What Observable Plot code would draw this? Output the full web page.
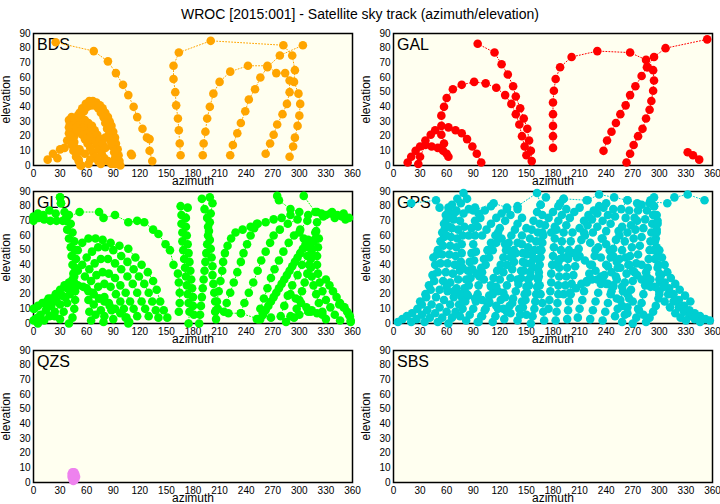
<!DOCTYPE html>
<html><head><meta charset="utf-8">
<script src="https://cdn.jsdelivr.net/npm/d3@7"></script>
<script src="https://cdn.jsdelivr.net/npm/@observablehq/plot@0.6"></script>
<style>
body{margin:0;background:#fff;font-family:"Liberation Sans",Arial,Helvetica,sans-serif;}
#wrap{position:relative;width:720px;height:504px;overflow:hidden;background:#fff;}
#title{position:absolute;left:0;top:6px;width:720px;text-align:center;font-size:14px;line-height:17px;color:#000;}
.panel{position:absolute;}
.panel svg{overflow:visible;}
</style></head><body>
<div id="wrap"><div id="title">WROC [2015:001] - Satellite sky track (azimuth/elevation)</div></div>
<script>
const azTicks = [0,30,60,90,120,150,180,210,240,270,300,330,360];
const elTicks = [0,10,20,30,40,50,60,70,80,90];
const systemNames = ["BDS","GAL","GLO","GPS","QZS","SBS"];
const systemColors = ["#ffa500","#ff0000","#00ff00","#00ced1","#ee82ee","#0000ff"];

const bdsTracks = [
 [[25,84],[68,78],[84,71],[93,63],[101,55],[107,48],[113,40],[117,33],[123,25],[128,19],[131,18],[131,10],[134,3]],
 [[166,7],[165,15],[164,24],[163,32],[161,41],[160,50],[158,59],[158,68],[164,77],[200,85],[282,82],[292,75],[295,65],[294,57],[299,49],[301,42],[300,34],[298,27],[295,19],[293,13],[289,6]],
 [[191,7],[192,15],[194,23],[196,32],[199,40],[203,49],[210,57],[222,64],[242,68],[264,68],[274,63],[284,63],[289,58],[289,50],[286,42],[281,35],[275,28],[271,21],[267,15],[262,8]],
 [[222,7],[225,14],[230,22],[234,29],[239,37],[243,45],[250,52],[256,60],[264,67],[278,75],[304,82]],
 [[53,0],[51,4],[49,8],[47,12],[46,16],[46,20],[46,24],[47,28],[49,32],[52,36],[55,39],[59,42],[63,44],[67,44],[71,43],[75,41],[78,39],[81,36],[84,33],[86,30],[88,27],[90,23],[92,19],[93,15],[95,11],[96,7],[97,3],[98,0]],
 [[57,37],[61,40],[65,41],[69,41],[73,39],[76,36],[79,33],[81,29],[83,25],[85,21],[87,17],[89,13],[91,9],[92,5],[93,1]],
 [[48,30],[44,31],[41,29],[40,26],[40,22],[41,18],[43,14],[45,10],[48,6],[51,3],[54,0]],
 [[40,31],[43,33],[46,32],[50,30],[53,28],[56,26],[59,24],[62,22],[65,20],[68,17],[71,14],[74,11],[77,8],[80,5],[84,3],[88,1]],
 [[44,27],[48,26],[52,23],[55,21],[58,18],[61,15],[64,12],[67,9],[70,6],[73,3],[76,1]],
 [[50,34],[54,33],[58,31],[62,29],[66,27],[69,24],[72,21],[75,18],[78,15],[81,12]],
 [[16,4],[22,8],[27,5],[30,11],[35,12],[38,17],[42,20]],
 [[52,11],[58,8],[64,4],[62,1]],
 [[81,19],[88,15],[92,1]],
 [[110,8],[111,7]]
];

const galTracks = [
 [[95,83],[114,77],[122,69],[129,62],[135,54],[138,47],[143,39],[147,32],[151,25],[153,17],[155,10],[156,3]],
 [[16,2],[20,6],[25,10],[30,13],[36,17],[42,21],[47,24],[54,27],[62,26],[70,24],[77,22],[83,18],[89,13],[94,8],[99,2]],
 [[28,1],[30,6],[36,14],[43,13],[50,12],[56,10],[60,8],[62,6]],
 [[54,21],[57,15],[54,34],[57,40],[60,46],[67,52],[77,55],[91,57],[104,56],[116,53],[126,48],[133,42],[138,35],[142,28],[145,20],[148,13],[150,7]],
 [[180,12],[180,20],[180,27],[180,35],[180,43],[181,51],[183,59],[188,67],[201,74],[230,78],[267,77],[285,72],[287,67],[293,65],[294,58],[293,51],[291,44],[289,38],[285,32],[281,25],[276,20],[271,14],[267,8],[263,2]],
 [[237,10],[241,17],[246,23],[251,29],[256,35],[262,41],[267,48],[273,54],[280,61],[286,67],[294,74],[307,80],[354,86]],
 [[332,9],[338,7],[345,4]]
];

const gloTracks = [
 [[0,73],[6,72],[12,71],[19,70],[26,70],[33,70],[37,72]],
 [[0,70],[5,75],[11,74],[18,77],[25,75]],
 [[30,86],[31,82]],
 [[37,72],[52,76],[74,76],[79,72],[92,74],[107,69],[117,70],[125,69],[135,64],[141,61],[149,54],[154,50],[158,40],[163,34],[164,28],[165,21],[165,14],[164,8]],
 [[50,50],[55,55],[62,58],[70,58],[78,57],[87,55],[97,53],[107,51],[115,45],[122,40],[129,35],[135,29],[139,23],[143,15],[147,9],[151,4]],
 [[55,40],[60,45],[66,49],[73,52],[81,52],[90,50],[99,46],[106,42],[113,37],[119,32],[125,27],[130,21],[134,15],[138,9],[141,4]],
 [[58,32],[63,37],[69,41],[76,44],[84,44],[92,41],[99,37],[106,32],[112,27],[117,21],[122,15],[126,10],[130,5]],
 [[60,24],[65,29],[71,33],[78,35],[85,34],[92,31],[98,26],[104,21],[109,15],[113,10],[117,5]],
 [[62,16],[67,21],[73,25],[80,27],[87,25],[93,20],[98,15],[102,10],[105,4],[107,0]],
 [[63,8],[68,13],[74,17],[80,18],[85,14],[88,9],[90,3]],
 [[65,2],[70,6],[76,9],[80,5],[79,1]],
 [[30,86],[31,82],[35,76],[37,70],[38,64],[40,58],[42,52],[43,46],[44,40],[45,34],[46,28],[47,22],[47,16],[46,10],[44,4],[40,0]],
 [[40,74],[42,68],[44,62],[46,56],[47,50],[48,44],[47,38],[46,32],[44,26],[41,20],[38,14],[34,8],[30,3]],
 [[0,10],[5,12],[10,14],[15,15],[20,17],[25,20],[30,23],[35,26],[40,28],[45,28],[50,26],[56,25],[62,22],[68,20],[74,17],[80,15],[86,12],[92,10],[98,7],[104,4],[108,1]],
 [[2,3],[8,6],[14,9],[20,12],[26,15],[32,19],[38,24],[44,30],[50,36]],
 [[5,0],[12,2],[18,5],[24,8],[30,13],[36,18],[42,24]],
 [[1,10],[13,14],[17,17],[24,5],[5,4],[0,2]],
 [[166,80],[167,74],[167,68],[168,62],[168,56],[169,50],[170,44],[171,38],[172,32],[173,26],[174,20],[175,14],[176,8],[175,0]],
 [[174,79],[172,72],[172,66],[173,60],[174,54],[175,48],[176,42],[177,36],[178,30],[179,24],[180,18],[180,12],[181,6]],
 [[190,85],[193,78],[196,72],[197,66],[197,60],[196,54],[195,48],[194,42],[193,36],[192,30],[191,24],[190,18],[189,12],[188,6],[187,0]],
 [[199,86],[202,82],[200,75],[199,69],[198,63],[199,57],[200,51],[201,45],[202,39],[202,33],[203,27],[204,21],[205,15],[206,9],[206,3]],
 [[205,8],[207,15],[209,22],[211,29],[213,36],[214,42],[216,48],[219,53],[223,58],[228,62],[236,64],[245,66],[252,68]],
 [[215,8],[218,14],[222,21],[226,28],[230,35],[234,42],[237,48],[241,54],[245,60],[249,65],[253,68],[262,69],[271,71],[280,72],[290,74]],
 [[234,7],[238,14],[243,21],[248,28],[253,36],[257,43],[262,49],[267,55],[271,60],[278,64],[287,68],[298,71]],
 [[252,3],[256,10],[260,17],[264,24],[268,31],[272,37],[277,43],[282,49],[288,55],[294,60],[301,64],[309,70]],
 [[256,3],[259,6],[262,9],[265,12],[268,15],[271,18],[274,21],[277,24],[280,27],[283,30],[286,33],[289,36],[292,39],[295,42],[298,45],[301,48],[304,51],[307,54],[310,57]],
 [[279,5],[283,12],[287,19],[292,26],[298,33],[303,40],[309,46],[313,52],[317,57],[319,63],[320,69],[327,73],[335,75],[343,74],[350,75],[356,72]],
 [[318,62],[316,56],[314,50],[313,44],[313,38],[314,32],[316,26],[319,20],[322,14],[326,8],[330,3]],
 [[322,58],[321,52],[320,46],[320,40],[321,34],[323,28],[326,22],[330,16],[335,11],[340,6],[346,2]],
 [[300,62],[305,58],[310,52],[312,46],[311,40],[309,34],[306,28],[303,22],[300,16],[297,10],[294,4]],
 [[330,30],[334,26],[338,22],[342,18],[346,14],[350,11],[354,8],[357,5],[358,2]],
 [[290,20],[296,17],[302,14],[308,11],[314,9],[320,7],[326,6]],
 [[275,87],[277,84],[290,78],[300,76]],
 [[305,87],[318,76],[325,75],[337,76],[348,73],[352,71]],
 [[310,74],[320,76],[330,74],[340,72]],
 [[345,13],[351,11],[356,6],[358,1]],
 [[285,1],[290,5],[300,6],[310,8],[313,8]],
 [[208,10],[220,7],[234,7],[254,3],[268,4]]
];

const gpsTracks = [
 [[5,1],[10,3],[15,5],[21,7],[27,10],[32,13],[37,18],[42,23],[46,29],[50,35],[53,41],[55,47],[56,53],[57,59],[58,65],[60,71],[62,76],[66,81],[72,85],[79,89]],
 [[20,1],[26,3],[32,6],[38,9],[43,13],[48,18],[52,23],[56,29],[59,35],[61,41],[63,47],[64,53],[65,59],[66,65],[68,71],[71,77],[76,82],[83,85]],
 [[35,1],[41,4],[47,7],[52,11],[57,16],[61,22],[64,28],[67,34],[69,40],[70,46],[71,52],[72,58],[73,64],[75,70],[79,75],[85,78],[92,79]],
 [[50,1],[55,4],[60,8],[64,13],[68,18],[71,24],[73,30],[75,36],[76,42],[77,48],[77,54],[78,60],[80,66]],
 [[62,0],[66,4],[70,8],[74,13],[77,18],[80,24],[82,30],[84,36],[86,42],[88,48],[90,54],[92,60],[95,66],[98,72],[103,77],[110,80]],
 [[82,2],[86,6],[90,10],[93,15],[95,20],[96,26],[97,32],[99,38],[102,44],[106,50],[110,55],[115,60],[120,65],[126,70],[132,74],[140,78]],
 [[95,1],[99,5],[103,9],[106,14],[108,19],[110,25],[113,31],[117,36],[121,40],[124,45],[127,50],[130,55],[133,60],[137,64],[140,68],[145,72]],
 [[112,1],[115,5],[118,10],[121,16],[124,21],[128,26],[132,31],[134,37],[136,42],[138,48]],
 [[125,3],[128,8],[131,12],[135,17],[138,22],[141,27],[144,31],[147,36],[149,41],[150,47],[152,52],[154,58],[156,64],[158,70],[162,76],[166,81],[172,86]],
 [[140,2],[143,6],[146,11],[149,16],[151,21],[153,26],[155,32],[157,38],[158,44],[159,50],[161,56],[163,62],[165,68],[168,74]],
 [[155,0],[157,5],[159,10],[160,15],[161,20],[162,25],[163,30],[164,35],[165,40],[166,45],[167,50],[168,55],[169,60]],
 [[170,2],[169,8],[168,14],[166,20],[165,26],[164,32],[163,38],[163,44],[164,50],[166,56],[168,62],[171,67],[175,72],[180,76],[186,80],[192,85]],
 [[183,2],[184,8],[185,14],[186,20],[186,26],[187,32],[187,38],[188,44],[189,50],[190,56],[192,62],[195,67],[199,72],[204,76],[210,79],[218,84]],
 [[196,3],[197,9],[198,15],[199,21],[201,27],[203,33],[205,39],[207,45],[209,51],[212,57],[215,62],[219,67],[224,71],[230,75],[237,79]],
 [[208,4],[210,10],[213,16],[215,22],[218,28],[221,34],[224,40],[227,46],[231,52],[235,58],[240,63],[245,68],[250,73],[257,78],[264,84]],
 [[222,3],[225,9],[228,15],[231,21],[234,27],[238,33],[242,39],[245,45],[248,51],[251,57],[254,63]],
 [[236,2],[239,8],[242,14],[245,20],[248,26],[251,32],[253,38],[255,44],[258,50],[261,56],[264,62],[268,67],[272,72],[276,77],[280,81],[290,83]],
 [[258,1],[261,6],[264,11],[266,17],[268,23],[270,29],[272,35],[274,41],[276,47],[278,53],[280,59],[282,65],[284,71],[286,77],[289,82],[294,86]],
 [[270,0],[274,4],[277,9],[280,14],[282,20],[284,26],[286,32],[287,38],[288,44],[289,50],[290,56],[291,62],[292,68],[293,74],[294,80]],
 [[285,1],[289,4],[293,8],[296,12],[299,17],[300,22],[301,28],[300,34],[299,40],[298,46],[297,52],[296,58],[297,64],[298,70]],
 [[290,84],[294,80],[297,74],[298,68],[297,62],[295,56],[294,50],[295,44],[298,38],[302,33],[306,28],[311,24],[316,20],[322,16],[328,12],[334,9],[340,7],[346,5],[352,3],[357,2]],
 [[300,30],[305,25],[310,20],[316,15],[322,11],[328,8],[334,5],[340,3],[346,1]],
 [[280,40],[285,35],[290,30],[295,25],[300,20],[306,15],[312,11],[318,7],[324,4],[330,2]],
 [[60,25],[68,22],[76,20],[84,19],[92,17],[100,16],[108,14],[116,12],[124,10],[132,7]],
 [[70,40],[78,38],[86,36],[94,34],[102,30],[110,26],[118,22],[126,18],[134,14],[142,10],[150,6]],
 [[180,40],[186,42],[192,45],[198,47],[204,48],[210,46],[216,43],[222,40],[228,36],[234,32],[240,27],[246,22],[252,17],[258,12],[264,7]],
 [[200,20],[206,24],[212,27],[218,29],[224,30],[230,30],[236,29],[242,27],[248,25]],
 [[20,82],[48,84],[52,79]],
 [[90,77],[113,82],[128,79],[140,80],[162,89],[166,81]],
 [[188,82],[192,85],[219,84],[232,88],[249,86],[264,84],[275,82],[290,83],[309,82],[317,86],[332,88],[351,84]],
 [[100,60],[105,64],[110,68],[116,72],[122,75],[128,78]],
 [[210,65],[216,60],[222,55],[228,50],[234,45],[240,40],[246,35],[252,30],[258,25],[264,20],[270,15],[276,10],[282,6]],
 [[150,65],[145,60],[140,55],[136,50],[132,45],[128,40],[124,35],[120,30],[116,25],[112,20],[108,15],[104,10],[100,5],[96,1]],
 [[45,45],[50,50],[53,56],[55,62],[57,68],[59,74],[62,79]],
 [[30,15],[36,20],[40,26],[44,33],[47,40],[49,47]],
 [[75,5],[78,10],[81,15],[83,20],[85,26],[87,31],[89,37],[91,43],[93,49]],
 [[100,35],[104,40],[108,45],[112,50],[116,55]],
 [[145,15],[148,20],[150,25],[152,30],[154,35],[155,41],[156,47]],
 [[175,10],[176,16],[177,22],[178,28],[178,34],[179,40],[180,46],[181,52],[182,58],[184,64]],
 [[192,20],[194,26],[195,32],[196,38],[197,44],[198,50],[200,56],[202,62]],
 [[215,70],[220,74],[226,77],[232,80],[240,82]],
 [[250,5],[253,10],[256,16],[259,22],[261,28],[263,34],[265,40],[267,46],[269,52],[271,58],[273,64],[275,70]],
 [[262,45],[266,40],[270,36],[275,33],[280,30],[285,27],[290,25]],
 [[300,50],[303,45],[306,40],[309,35],[313,31],[318,27],[323,23],[329,19],[335,15]],
 [[60,60],[63,66],[66,72],[70,76]],
 [[118,62],[122,58],[126,54],[130,50],[134,46]],
 [[236,58],[240,54],[244,50],[248,46],[252,42],[256,38]],
 [[178,62],[182,66],[186,70],[190,74],[195,78]],
 [[85,60],[88,65],[92,70],[96,75]],
 [[140,30],[144,36],[146,42],[146,48],[145,54]],
 [[225,62],[230,66],[236,70],[242,74],[248,78]],
 [[255,60],[258,66],[262,72],[266,77]]
];

const qzsTracks = [
 [[44,7],[43,6],[43,4],[44,2],[45,1],[47,2],[48,4],[47,6],[46,7],[45,6],[44,4],[45,3],[46,4],[45,5]]
];

const sbsTracks = [];

const allTracks = [bdsTracks, galTracks, gloTracks, gpsTracks, qzsTracks, sbsTracks];
const panelLeft = [0, 360];
const panelTop = [13, 171, 330];

function toRows(tracks) {
  return tracks.flatMap((t, i) => t.map(([az, el]) => ({az, el, track: i})));
}

const wrap = document.getElementById("wrap");
const fontFamily = '"Liberation Sans", Arial, Helvetica, sans-serif';

systemNames.forEach((name, k) => {
  const data = toRows(allTracks[k]);
  const color = systemColors[k];
  const svg = Plot.plot({
    width: 360, height: 178,
    marginLeft: 33, marginRight: 8, marginTop: 20, marginBottom: 26,
    x: {domain: [0, 360]},
    y: {domain: [0, 90]},
    style: {background: "transparent", overflow: "visible", fontFamily, fontSize: "10px", color: "black"},
    marks: [
      Plot.frame({fill: "#fffff0"}),
      Plot.axisX({ticks: azTicks, tickSize: 0, tickPadding: 4, label: null, fontSize: 10}),
      Plot.axisY({ticks: elTicks, tickSize: 0, tickPadding: 3, label: null, fontSize: 10}),
      Plot.text(["azimuth"], {text: d => d, frameAnchor: "bottom", lineAnchor: "middle", textAnchor: "middle", dy: 15.5, fontSize: 12}),
      Plot.text(["elevation"], {text: d => d, frameAnchor: "left", lineAnchor: "middle", textAnchor: "middle", dx: -27, rotate: -90, fontSize: 12}),
      Plot.frame({stroke: "black", strokeWidth: 1.5}),
      Plot.text([name], {text: d => d, frameAnchor: "top-left", dx: 3.5, dy: 5.5, lineAnchor: "top", textAnchor: "start", fontSize: 16}),
      Plot.line(data, {x: "az", y: "el", z: "track", stroke: color, strokeWidth: 1, strokeDasharray: "1,2"}),
      Plot.dot(data, {x: "az", y: "el", r: 4.3, fill: color, stroke: "none"})
    ]
  });
  const div = document.createElement("div");
  div.className = "panel";
  div.style.left = panelLeft[k % 2] + "px";
  div.style.top = panelTop[Math.floor(k / 2)] + "px";
  div.appendChild(svg);
  wrap.appendChild(div);
});
</script>
</body></html>
